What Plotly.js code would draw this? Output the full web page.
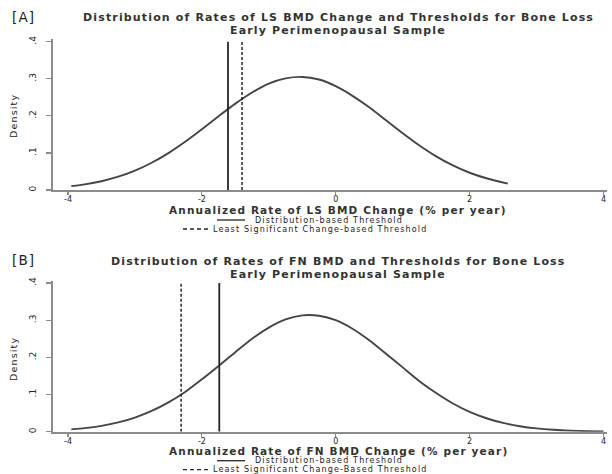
<!DOCTYPE html>
<html>
<head>
<meta charset="utf-8">
<script src="https://cdn.plot.ly/plotly-3.0.1.min.js"></script>
<style>
html,body{margin:0;padding:0;background:#fff;}
#chart{width:612px;height:474px;}
.annotation-text{letter-spacing:1.15px;}
</style>
</head>
<body>
<div id="chart"></div>
<script>
// ---- Data ----
// Panel A: LS BMD annualized rate of change (% per year) and density
var lsX = [-3.95,-3.75,-3.5,-3.25,-3,-2.75,-2.5,-2.25,-2,-1.75,-1.5,-1.25,-1,-0.75,-0.5,-0.25,0,0.25,0.5,0.75,1,1.25,1.5,1.75,2,2.25,2.57];
var lsDensity = [0.0103,0.0152,0.0237,0.0359,0.0523,0.0735,0.0996,0.130,0.164,0.199,0.233,0.263,0.287,0.301,0.305,0.298,0.280,0.254,0.223,0.188,0.153,0.120,0.0907,0.0662,0.0465,0.0316,0.0170];
// thresholds: [distribution-based, least significant change-based]
var lsThresholds = [-1.61, -1.40];

// Panel B: FN BMD annualized rate of change (% per year) and density
var fnX = [-3.95,-3.75,-3.5,-3.25,-3,-2.75,-2.5,-2.25,-2,-1.75,-1.5,-1.25,-1,-0.75,-0.5,-0.25,0,0.25,0.5,0.75,1,1.25,1.5,1.75,2,2.25,2.5,2.75,3,3.25,3.5,3.75,4];
var fnDensity = [0.0062,0.0095,0.0157,0.0249,0.0380,0.0558,0.0790,0.107,0.141,0.177,0.214,0.250,0.280,0.302,0.313,0.312,0.300,0.277,0.246,0.210,0.173,0.136,0.104,0.0759,0.0534,0.0362,0.0236,0.0148,0.0089,0.0052,0.0029,0.0015,0.0008];
var fnThresholds = [-1.74, -2.31];

var thresholdTop = 0.4;
var xTicks = [-4,-2,0,2,4];
var xTickText = ["-4","-2","0","2","4"];
var yTicks = [0,0.1,0.2,0.3,0.4];
var yTickText = ["0",".1",".2",".3",".4"];

var titlesA = ["Distribution of Rates of LS BMD Change and Thresholds for Bone Loss","Early Perimenopausal Sample"];
var titlesB = ["Distribution of Rates of FN BMD and Thresholds for Bone Loss","Early Perimenopausal Sample"];
var xTitleA = "Annualized Rate of LS BMD Change (% per year)";
var xTitleB = "Annualized Rate of FN BMD Change (% per year)";
var legendA = ["Distribution-based Threshold","Least Significant Change-based Threshold"];
var legendB = ["Distribution-based Threshold","Least Significant Change-Based Threshold"];
var panelLabels = ["[A]","[B]"];

// ---- Styling / layout ----
var W = 612, H = 474;
function px(v){ return v / W; }
function py(v){ return 1 - v / H; }
var FONT = "DejaVu Sans, Arial, sans-serif";
var TXT = "#222";
var TXTB = "#333";
var CURVE = "#454545";
var VLINE = "#262626";
var AXC = "#8c8c8c";

var traces = [];
function panel(xs, ys, thr, xa, ya){
  traces.push({x: xs, y: ys, xaxis: xa, yaxis: ya, type: 'scatter', mode: 'lines',
    line: {color: CURVE, width: 1.9, shape: 'spline', smoothing: 0.6}, showlegend: false, hoverinfo: 'skip'});
  traces.push({x: [thr[0], thr[0]], y: [0, thresholdTop], xaxis: xa, yaxis: ya, type: 'scatter', mode: 'lines',
    line: {color: VLINE, width: 1.8}, showlegend: false, hoverinfo: 'skip'});
  traces.push({x: [thr[1], thr[1]], y: [0, thresholdTop], xaxis: xa, yaxis: ya, type: 'scatter', mode: 'lines',
    line: {color: VLINE, width: 1.5, dash: '3px,2px'}, showlegend: false, hoverinfo: 'skip'});
}
panel(lsX, lsDensity, lsThresholds, 'x', 'y');
panel(fnX, fnDensity, fnThresholds, 'x2', 'y2');

var xDomain = [px(53), px(607)];
var xRange = [-4.224, 4.052];
function xAxis(anchor){
  return {domain: xDomain, range: xRange, anchor: anchor, showline: true, linecolor: AXC, linewidth: 1.8,
    ticks: 'outside', ticklen: 3, tickcolor: AXC, tickwidth: 1.2, showgrid: false, zeroline: false,
    tickvals: xTicks, ticktext: xTickText, ticklabelstandoff: -2,
    tickfont: {family: FONT, size: 8, color: TXT}, fixedrange: true};
}
function yAxis(anchor, dom, top){
  return {domain: dom, range: [0, top], anchor: anchor, showline: true, linecolor: AXC, linewidth: 1.8,
    ticks: 'outside', ticklen: 5, tickcolor: AXC, tickwidth: 1.2, showgrid: false, zeroline: false,
    tickvals: yTicks, ticktext: yTickText, tickangle: -90, ticklabelstandoff: 7,
    tickfont: {family: FONT, size: 9, color: TXT}, fixedrange: true};
}

var ann = [];
function txt(t, x, y, size, anchor, angle, weight){
  ann.push({text: t, x: px(x), y: py(y), xref: 'paper', yref: 'paper', showarrow: false,
    xanchor: anchor || 'center', yanchor: 'middle', textangle: angle || 0, borderpad: 0,
    font: {family: FONT, size: size, color: weight ? TXTB : TXT, weight: weight || 'normal'}});
}
var shapes = [];
function sample(x0, x1, y, dash){
  shapes.push({type: 'line', xref: 'paper', yref: 'paper', x0: px(x0), x1: px(x1), y0: py(y), y1: py(y),
    line: {color: VLINE, width: 1.3, dash: dash || 'solid'}});
}

function decorate(titles, xt, leg, label, offTop, offTitle, offBot){
  txt(label, 23, 17 + offTop, 13.5);
  txt(titles[0], 338, 18 + offTop, 11, 'center', 0, 'bold');
  txt(titles[1], 338, 31 + offTop, 11, 'center', 0, 'bold');
  txt("Density", 13, 116 + offTop, 9.5, 'center', -90);
  txt(xt, 338, 209.5 + offTitle, 10.5, 'center', 0, 'bold');
  sample(217, 245, 220 + offBot);
  txt(leg[0], 254, 220 + offBot, 8, 'left');
  sample(183, 208, 229 + offBot, '4px,3px');
  txt(leg[1], 212, 229 + offBot, 8, 'left');
}
decorate(titlesA, xTitleA, legendA, panelLabels[0], 0, 0, 0);
decorate(titlesB, xTitleB, legendB, panelLabels[1], 243, 241.7, 240.7);

var layout = {
  width: W, height: H,
  margin: {l: 0, r: 0, t: 0, b: 0},
  paper_bgcolor: '#fff', plot_bgcolor: '#fff',
  showlegend: false,
  xaxis: xAxis('y'),
  yaxis: yAxis('x', [py(190), py(39)], 0.4073),
  xaxis2: xAxis('y2'),
  yaxis2: yAxis('x2', [py(431.7), py(281)], 0.4054),
  annotations: ann,
  shapes: shapes
};
Plotly.newPlot('chart', traces, layout, {displayModeBar: false, staticPlot: true});
</script>
</body>
</html>
